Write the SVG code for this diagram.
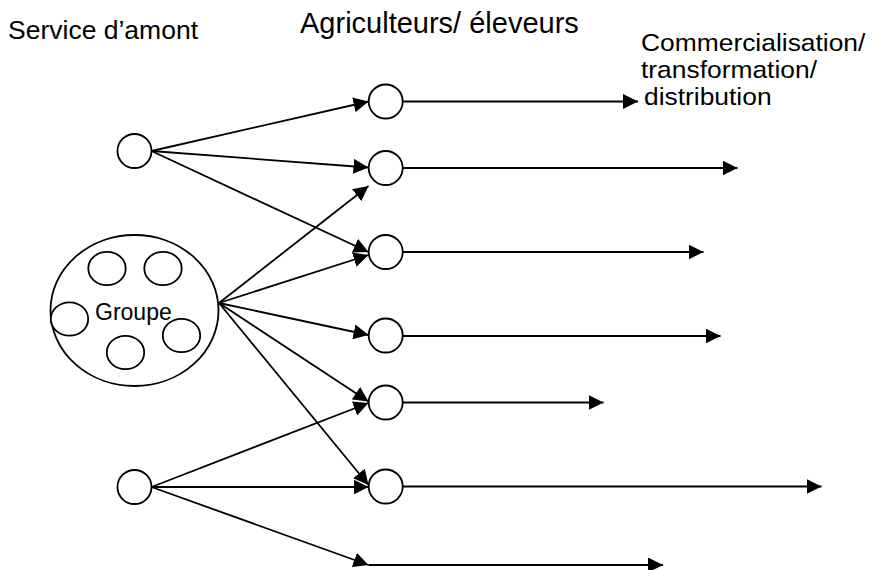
<svg xmlns="http://www.w3.org/2000/svg" width="875" height="570" viewBox="0 0 875 570">
  <style>
    .node { fill: #fff; stroke: #000; stroke-width: 1.8; }
    .link { fill: none; stroke: #000; stroke-width: 1.8; marker-end: url(#arrow); }
    .label { font-family: "Liberation Sans", Arial, sans-serif; fill: #000; }
  </style>
  <defs>
    <marker id="arrow" markerUnits="userSpaceOnUse" markerWidth="15" markerHeight="15" refX="15" refY="7.5" orient="auto">
      <path d="M0,0 L15,7.5 L0,15 z" fill="#000"/>
    </marker>
  </defs>
  <rect width="875" height="570" fill="#fff"/>

  <!-- column headings -->
  <g id="headings">
    <text class="label" x="8" y="39" font-size="26.5">Service d’amont</text>
    <text class="label" x="300" y="33" font-size="29">Agriculteurs/ éleveurs</text>
    <!-- three-line heading, slightly widened to keep tight line spacing -->
    <g transform="translate(641,0) scale(1.1,1)">
      <text class="label" x="0" y="51" font-size="24">Commercialisation/</text>
      <text class="label" x="0" y="78" font-size="24">transformation/</text>
      <text class="label" x="2.7" y="105" font-size="24">distribution</text>
    </g>
  </g>

  <!-- connectors -->
  <g id="connectors">
    <!-- upper supplier -->
    <line class="link" x1="151.5" y1="151" x2="368.5" y2="101.5"/>
    <line class="link" x1="151.5" y1="151" x2="368.5" y2="167.5"/>
    <line class="link" x1="151.5" y1="151" x2="368.5" y2="252"/>
    <!-- group -->
    <line class="link" x1="219" y1="303" x2="368.5" y2="186"/>
    <line class="link" x1="219" y1="303" x2="368.5" y2="255"/>
    <line class="link" x1="219" y1="303" x2="368.5" y2="335"/>
    <line class="link" x1="219" y1="303" x2="368.5" y2="401.5"/>
    <line class="link" x1="219" y1="303" x2="368.5" y2="485"/>
    <!-- lower supplier -->
    <line class="link" x1="151.5" y1="487" x2="368.5" y2="403"/>
    <line class="link" x1="151.5" y1="487" x2="368.5" y2="487"/>
    <line class="link" x1="151.5" y1="487" x2="368.5" y2="565"/>
    <!-- downstream -->
    <line class="link" x1="403" y1="101.5" x2="638" y2="101.5"/>
    <line class="link" x1="403" y1="168" x2="737.5" y2="168"/>
    <line class="link" x1="403" y1="252" x2="703.5" y2="252"/>
    <line class="link" x1="403" y1="336" x2="720.5" y2="336"/>
    <line class="link" x1="403" y1="402.5" x2="603.5" y2="402.5"/>
    <line class="link" x1="403" y1="486.5" x2="821.5" y2="486.5"/>
    <line class="link" x1="368.5" y1="565" x2="663" y2="565"/>
  </g>

  <!-- upstream services -->
  <g id="supplier-top"><circle class="node" cx="134.5" cy="151" r="17"/></g>
  <g id="supplier-bottom"><circle class="node" cx="134.5" cy="487" r="17"/></g>

  <!-- farmer group -->
  <g id="groupe">
    <ellipse class="node" cx="134.5" cy="310.5" rx="84" ry="75.5"/>
    <ellipse class="node" cx="107" cy="268.5" rx="18.7" ry="16.7"/>
    <ellipse class="node" cx="163" cy="268.5" rx="18.7" ry="16.7"/>
    <ellipse class="node" cx="69.5" cy="319" rx="18.7" ry="16.7"/>
    <ellipse class="node" cx="125.5" cy="352.5" rx="18.7" ry="16.7"/>
    <ellipse class="node" cx="181.5" cy="335.5" rx="18.7" ry="16.7"/>
    <text class="label" x="95" y="320" font-size="23">Groupe</text>
  </g>

  <!-- farmers / breeders -->
  <g id="farmer-1"><circle class="node" cx="385.7" cy="101.5" r="17"/></g>
  <g id="farmer-2"><circle class="node" cx="385.7" cy="168" r="17"/></g>
  <g id="farmer-3"><circle class="node" cx="385.7" cy="252" r="17"/></g>
  <g id="farmer-4"><circle class="node" cx="385.7" cy="335.5" r="17"/></g>
  <g id="farmer-5"><circle class="node" cx="385.7" cy="402.5" r="17"/></g>
  <g id="farmer-6"><circle class="node" cx="385.7" cy="486.5" r="17"/></g>
</svg>
